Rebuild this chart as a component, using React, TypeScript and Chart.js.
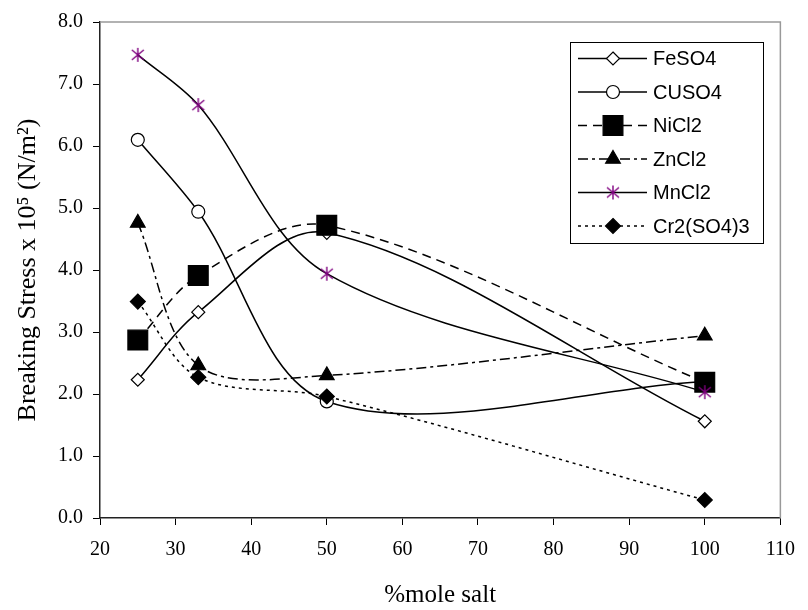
import React, { useEffect, useRef } from 'react';
import { Chart, registerables } from 'chart.js';

Chart.register(...registerables);

// ---- data ----
const molePercent = [25, 33, 50, 100];
const seriesNames = ['FeSO4', 'CUSO4', 'NiCl2', 'ZnCl2', 'MnCl2', 'Cr2(SO4)3'];
const feso4 = [2.23, 3.32, 4.6, 1.56];
const cuso4 = [6.1, 4.94, 1.88, 2.2];
const nicl2 = [2.87, 3.91, 4.72, 2.19];
const zncl2 = [4.76, 2.46, 2.3, 2.94];
const mncl2 = [7.47, 6.66, 3.94, 2.03];
const cr2so43 = [3.49, 2.27, 1.96, 0.29];
const seriesValues = [feso4, cuso4, nicl2, zncl2, mncl2, cr2so43];

const xTitle = '%mole salt';
const yTitle = 'Breaking Stress x 10\u2075 (N/m\u00B2)';

const SERIF = "'Liberation Serif', 'Times New Roman', serif";
const SANS = "'Liberation Sans', Arial, sans-serif";

type MarkerStyle = {
  shape: string;
  radius: number;
  fill: string;
  stroke: string;
  dash: number[];
};

const seriesStyles: MarkerStyle[] = [
  { shape: 'rectRot', radius: 6.5, fill: '#ffffff', stroke: '#000000', dash: [] },
  { shape: 'circle', radius: 6.5, fill: '#ffffff', stroke: '#000000', dash: [] },
  { shape: 'rect', radius: 14, fill: '#000000', stroke: '#000000', dash: [9, 6] },
  { shape: 'triangle', radius: 8.5, fill: '#000000', stroke: '#000000', dash: [10, 4, 3, 4] },
  { shape: 'star', radius: 7, fill: '#800080', stroke: '#800080', dash: [] },
  { shape: 'rectRot', radius: 7.5, fill: '#000000', stroke: '#000000', dash: [3, 4] },
];

function makeStar(): HTMLCanvasElement {
  const c = document.createElement('canvas');
  c.width = 16;
  c.height = 16;
  const g = c.getContext('2d')!;
  g.strokeStyle = '#800080';
  g.lineWidth = 1.4;
  g.beginPath();
  g.moveTo(8, 1);
  g.lineTo(8, 15);
  g.moveTo(2, 3);
  g.lineTo(14, 13);
  g.moveTo(14, 3);
  g.lineTo(2, 13);
  g.stroke();
  return c;
}

function drawMarker(ctx: CanvasRenderingContext2D, s: MarkerStyle, x: number, y: number, star: HTMLCanvasElement) {
  ctx.save();
  ctx.setLineDash([]);
  ctx.fillStyle = s.fill;
  ctx.strokeStyle = s.stroke;
  ctx.lineWidth = 1.2;
  const r = s.radius;
  ctx.beginPath();
  if (s.shape === 'star') {
    ctx.drawImage(star, x - star.width / 2, y - star.height / 2);
    ctx.restore();
    return;
  } else if (s.shape === 'circle') {
    ctx.arc(x, y, r, 0, Math.PI * 2);
  } else if (s.shape === 'rectRot') {
    ctx.moveTo(x, y - r);
    ctx.lineTo(x + r, y);
    ctx.lineTo(x, y + r);
    ctx.lineTo(x - r, y);
    ctx.closePath();
  } else if (s.shape === 'rect') {
    const h = r * Math.SQRT1_2;
    ctx.rect(x - h, y - h, 2 * h, 2 * h);
  } else if (s.shape === 'triangle') {
    ctx.moveTo(x, y - r);
    ctx.lineTo(x + 0.866 * r, y + 0.5 * r);
    ctx.lineTo(x - 0.866 * r, y + 0.5 * r);
    ctx.closePath();
  }
  ctx.fill();
  ctx.stroke();
  ctx.restore();
}

export default function App() {
  const ref = useRef<HTMLCanvasElement>(null);

  useEffect(() => {
    const canvas = ref.current;
    if (!canvas) return;
    const star = makeStar();

    const datasets = seriesNames.map((name, i) => {
      const s = seriesStyles[i];
      return {
        label: name,
        data: molePercent.map((x, j) => ({ x, y: seriesValues[i][j] })),
        borderColor: '#000000',
        borderWidth: 1.5,
        borderDash: s.dash,
        tension: 0.33,
        fill: false,
        pointStyle: s.shape === 'star' ? star : s.shape,
        pointRadius: s.radius,
        pointHoverRadius: s.radius,
        pointBackgroundColor: s.fill,
        pointBorderColor: s.stroke,
        pointBorderWidth: 1.2,
        order: seriesNames.length - i,
      };
    });

    const framePlugin = {
      id: 'frame',
      beforeDatasetsDraw(chart: any) {
        const { ctx, chartArea: a } = chart;
        ctx.save();
        ctx.strokeStyle = '#999999';
        ctx.lineWidth = 1.5;
        ctx.beginPath();
        ctx.moveTo(a.left, a.top);
        ctx.lineTo(a.right, a.top);
        ctx.lineTo(a.right, a.bottom);
        ctx.stroke();
        ctx.restore();
      },
    };

    const legendPlugin = {
      id: 'customLegend',
      afterDraw(chart: any) {
        const ctx: CanvasRenderingContext2D = chart.ctx;
        const boxL = 570.5, boxT = 42.5, boxR = 763.5, boxB = 243.5;
        ctx.save();
        ctx.fillStyle = '#ffffff';
        ctx.fillRect(boxL, boxT, boxR - boxL, boxB - boxT);
        ctx.strokeStyle = '#000000';
        ctx.lineWidth = 1;
        ctx.strokeRect(boxL, boxT, boxR - boxL, boxB - boxT);
        const lineL = 578, lineR = 647, markX = 613, textX = 653;
        const startY = 58.5, step = 33.5;
        seriesNames.forEach((name, i) => {
          const s = seriesStyles[i];
          const y = startY + i * step;
          ctx.save();
          ctx.strokeStyle = '#000000';
          ctx.lineWidth = 1.5;
          ctx.setLineDash(s.dash);
          ctx.beginPath();
          ctx.moveTo(lineL, y);
          ctx.lineTo(lineR, y);
          ctx.stroke();
          ctx.restore();
          drawMarker(ctx, s, markX, y, star);
          ctx.fillStyle = '#000000';
          ctx.font = `20px ${SANS}`;
          ctx.textAlign = 'left';
          ctx.textBaseline = 'middle';
          ctx.fillText(name, textX, y + 1);
        });
        ctx.restore();
      },
    };

    const chart = new Chart(canvas, {
      type: 'line',
      data: { datasets: datasets as any },
      options: {
        animation: false,
        responsive: false,
        maintainAspectRatio: false,
        layout: { padding: { top: 19, right: 21, left: 0, bottom: 0 } },
        plugins: {
          legend: { display: false },
          tooltip: { enabled: false },
        },
        scales: {
          x: {
            type: 'linear',
            min: 20,
            max: 110,
            ticks: {
              stepSize: 10,
              color: '#000000',
              font: { family: SERIF, size: 20 },
              padding: 13,
              maxRotation: 0,
            },
            grid: { drawOnChartArea: false, drawTicks: true, tickLength: 7, color: '#000000', lineWidth: 1 },
            border: { display: true, color: '#222222', width: 1.5 },
            title: {
              display: true,
              text: xTitle,
              color: '#000000',
              font: { family: SERIF, size: 25 },
              padding: { top: 0, bottom: 0 },
            },
            afterFit: (s: any) => {
              s.height = 92;
            },
          },
          y: {
            type: 'linear',
            min: 0,
            max: 8,
            ticks: {
              stepSize: 1,
              color: '#000000',
              font: { family: SERIF, size: 20 },
              padding: 10,
              callback: (v: any) => Number(v).toFixed(1),
            },
            grid: { drawOnChartArea: false, drawTicks: true, tickLength: 7, color: '#000000', lineWidth: 1 },
            border: { display: true, color: '#222222', width: 1.5 },
            title: {
              display: true,
              text: yTitle,
              color: '#000000',
              font: { family: SERIF, size: 26 },
              padding: { top: 12.5, bottom: 0 },
            },
            afterFit: (s: any) => {
              s.width = 100;
            },
          },
        },
      },
      plugins: [framePlugin, legendPlugin],
    });

    return () => chart.destroy();
  }, []);

  return (
    <div style={{ position: 'fixed', left: 0, top: 0, width: 808, height: 610, background: '#ffffff' }}>
      <canvas ref={ref} width={808} height={610} style={{ display: 'block', width: 808, height: 610 }} />
    </div>
  );
}
